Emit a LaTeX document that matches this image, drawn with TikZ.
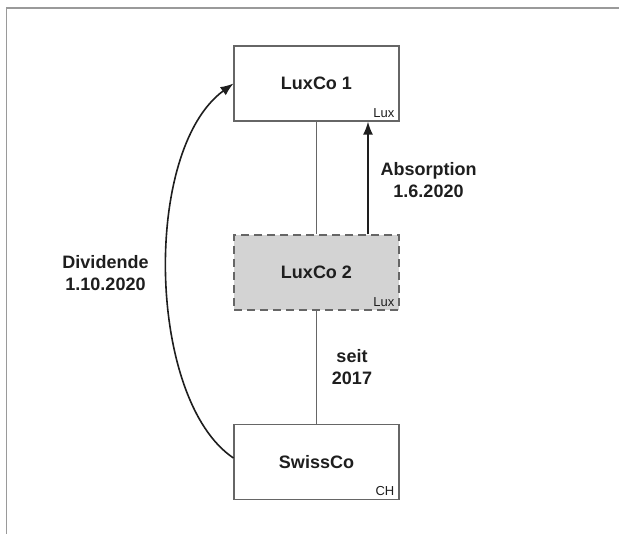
\documentclass[tikz,border=0pt]{standalone}
\usepackage{fontspec}
\setmainfont{Liberation Sans}
\usetikzlibrary{arrows.meta}
\definecolor{framegray}{HTML}{9A9A9A}
\definecolor{boxline}{HTML}{666666}
\definecolor{boxfill}{HTML}{D3D3D3}
\definecolor{ink}{HTML}{1E1E1E}
\tikzset{
  entity/.style={draw=boxline, line width=1.1pt, fill=white, minimum width=165pt,
    minimum height=75pt, inner sep=0pt, font=\fontsize{18}{21}\selectfont\bfseries, text=ink},
  merged/.style={entity, fill=boxfill, dash pattern=on 8pt off 5pt},
  country/.style={font=\fontsize{13}{14}\selectfont, text=ink, anchor=south east, inner sep=0pt},
  holding/.style={draw=boxline, line width=1.1pt},
  flow/.style={draw=ink, line width=1.8pt, -{Latex[length=13pt,width=10pt]}},
  flowlabel/.style={font=\fontsize{18}{22}\selectfont\bfseries, text=ink, align=center, inner sep=0pt}
}
\begin{document}
\begin{tikzpicture}[x=1pt, y=-1pt]
  \useasboundingbox (0,0) rectangle (619,534);
  % outer frame (top and left edges)
  \draw[framegray, line width=1.4pt] (619,8) -- (6.5,8) -- (6.5,534);

  % companies
  \node[entity] (l1) at (316.5,83.5) {LuxCo 1};
  \node[merged] (l2) at (316.5,272.5) {LuxCo 2};
  \node[entity] (sw) at (316.5,462) {SwissCo};

  \node[country] (l1c) at ([xshift=-5pt,yshift=4pt]l1.south east) {Lux};
  \node[country] (l2c) at ([xshift=-5pt,yshift=4pt]l2.south east) {Lux};
  \node[country] (swc) at ([xshift=-5pt,yshift=4pt]sw.south east) {CH};

  % shareholdings
  \draw[holding] (l1.south) -- (l2.north);
  \draw[holding] (l2.south) -- (sw.north);

  % merger of LuxCo 2 into LuxCo 1
  \draw[flow] ([xshift=51.5pt]l2.north) -- ([xshift=51.5pt]l1.south);
  \node[flowlabel] (abs) at (428.5,180) {Absorption\\1.6.2020};

  % dividend from SwissCo to LuxCo 1
  \draw[flow, line width=1.6pt] ([yshift=4pt]sw.west) .. controls (147,400) and (142,150) .. (l1.west);
  \node[flowlabel] (div) at (105.5,273) {Dividende\\1.10.2020};

  % holding period
  \node[flowlabel] (seit) at (352,367) {seit\\2017};
\end{tikzpicture}
\end{document}
